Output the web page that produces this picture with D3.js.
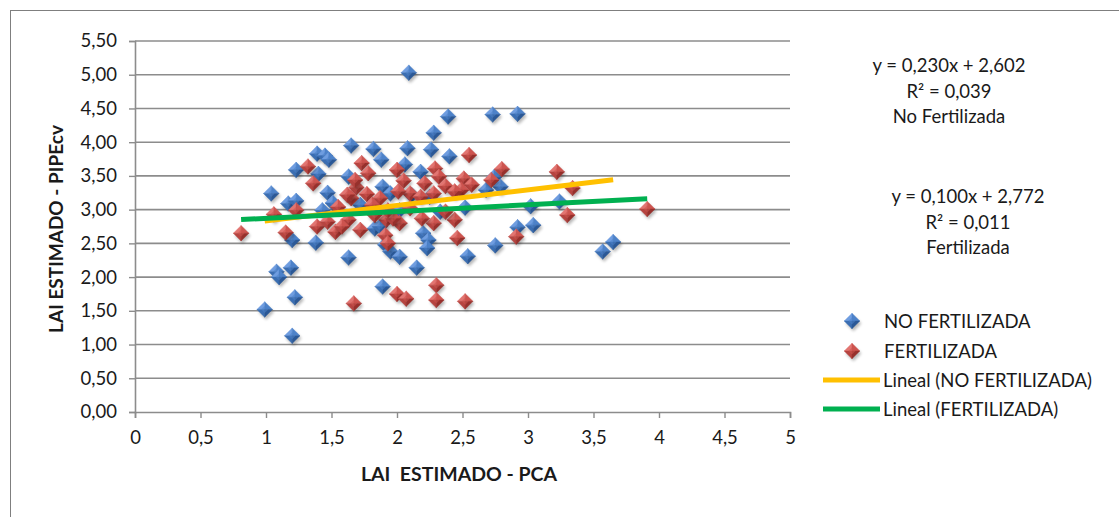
<!DOCTYPE html>
<html>
<head>
<meta charset="utf-8">
<script src="https://cdn.jsdelivr.net/npm/d3@7/dist/d3.min.js"></script>
<style>
  html, body { margin: 0; padding: 0; background: #fff; }
  svg { display: block; font-family: Lato, "Open Sans", sans-serif; }
</style>
</head>
<body>
<svg id="chart" width="1119" height="517"></svg>
<script>
// LAI estimated by PCA (x) vs. LAI estimated by PIPEcv (y)
const noFertX = [2.09,2.39,2.73,2.92,2.28,1.65,1.82,2.08,2.26,2.40,1.39,1.45,1.48,1.88,2.06,1.23,1.40,1.63,2.18,1.89,1.95,2.11,2.25,1.04,1.47,1.17,1.23,1.51,1.43,2.74,2.79,2.68,3.02,3.24,2.92,3.04,2.75,2.54,3.65,3.57,1.83,1.87,2.20,2.24,2.23,1.91,1.95,2.02,1.63,2.15,1.89,1.20,1.38,1.08,1.10,1.19,1.22,0.99,1.20,2.33,2.52,2.02,1.72];
const noFertY = [5.03,4.38,4.41,4.42,4.14,3.95,3.90,3.91,3.89,3.79,3.83,3.80,3.74,3.74,3.67,3.59,3.53,3.49,3.56,3.34,3.24,3.22,3.19,3.24,3.25,3.09,3.13,3.10,2.99,3.48,3.34,3.29,3.05,3.12,2.74,2.77,2.47,2.31,2.52,2.38,2.72,2.75,2.65,2.55,2.43,2.48,2.38,2.30,2.29,2.14,1.86,2.55,2.51,2.08,2.00,2.14,1.70,1.52,1.13,2.97,3.03,2.99,3.07];

const fertX = [1.32,1.73,1.78,2.00,1.36,1.69,1.77,2.05,2.10,1.06,1.23,0.81,1.15,2.55,2.80,3.22,2.29,2.32,2.51,2.57,2.72,2.21,2.37,2.28,2.49,3.34,3.30,3.91,2.44,2.28,2.19,2.02,1.92,2.91,2.46,1.91,1.93,2.00,2.07,2.30,2.30,2.52,1.67,1.68,1.65,1.87,2.01,2.18,1.63,1.72,1.97,2.44,2.37,1.39,1.47,1.53,1.58,1.55,1.62,1.81,1.93,2.10,1.83];
const fertY = [3.64,3.69,3.54,3.59,3.39,3.33,3.23,3.43,3.24,2.93,2.99,2.65,2.66,3.81,3.60,3.56,3.61,3.49,3.46,3.37,3.44,3.39,3.35,3.24,3.29,3.32,2.92,3.01,2.85,2.80,2.87,2.80,2.85,2.60,2.58,2.62,2.50,1.75,1.68,1.88,1.66,1.64,1.61,3.44,3.17,3.17,3.27,3.19,2.85,2.70,2.87,3.27,2.97,2.75,2.82,2.67,2.75,3.04,3.22,3.07,2.99,3.02,2.92];

// Linear trendlines: [slope, intercept, R²]
const noFertTrend = [0.230, 2.602, 0.039];
const fertTrend = [0.100, 2.772, 0.011];

const xTicks = [0, 0.5, 1, 1.5, 2, 2.5, 3, 3.5, 4, 4.5, 5];
const yTicks = [0, 0.5, 1, 1.5, 2, 2.5, 3, 3.5, 4, 4.5, 5, 5.5];

const seriesNames = ["NO FERTILIZADA", "FERTILIZADA"];
const trendNames = ["Lineal (NO FERTILIZADA)", "Lineal (FERTILIZADA)"];
const eqLabels = [["y = 0,230x + 2,602", "R² = 0,039", "No Fertilizada"],
                  ["y = 0,100x + 2,772", "R² = 0,011", "Fertilizada"]];

const comma = f => s => f(s).replace(".", ",");

const svg = d3.select("#chart");
const x = d3.scaleLinear().domain([0, 5]).range([135, 790]);
const y = d3.scaleLinear().domain([0, 5.5]).range([412, 41]);

const gridColor = "#8c8c8c";
const fontColor = "#1a1a1a";
const fs = "18.5px";

// Outer chart border
svg.append("rect").attr("x", 10.5).attr("y", 10.5).attr("width", 1130).attr("height", 530)
  .attr("fill", "none").attr("stroke", "#7f7f7f").attr("stroke-width", 1);

// Horizontal gridlines
svg.append("g").selectAll("line").data(yTicks.filter(d => d > 0)).join("line")
  .attr("x1", x(0)).attr("x2", x(5))
  .attr("y1", d => y(d)).attr("y2", d => y(d))
  .attr("stroke", gridColor).attr("stroke-width", 1.6);

// Axes
const yAxis = svg.append("g").attr("transform", `translate(${x(0)},0)`)
  .call(d3.axisLeft(y).tickValues(yTicks).tickFormat(comma(d3.format(".2f"))).tickSize(6).tickPadding(12));
const xAxis = svg.append("g").attr("transform", `translate(0,${y(0)})`)
  .call(d3.axisBottom(x).tickValues(xTicks).tickFormat(comma(d3.format("~g"))).tickSize(6).tickPadding(13));
[yAxis, xAxis].forEach(a => {
  a.select(".domain").attr("stroke", gridColor).attr("stroke-width", 1.6);
  a.selectAll(".tick line").attr("stroke", gridColor).attr("stroke-width", 1.4);
  a.selectAll(".tick text").attr("fill", fontColor).style("font-size", fs).style("font-family", "Lato");
});

// Axis titles
svg.append("text").attr("x", 459).attr("y", 481).attr("text-anchor", "middle")
  .attr("fill", fontColor).style("font-size", "19.5px").style("font-weight", "bold")
  .style("white-space", "pre").text("LAI  ESTIMADO - PCA");
svg.append("text").attr("transform", "translate(63,229) rotate(-90)").attr("text-anchor", "middle")
  .attr("fill", fontColor).style("font-size", "19px").style("font-weight", "bold")
  .text("LAI ESTIMADO - PIPEcv");

// Marker shading
const defs = svg.append("defs");
defs.append("filter").attr("id", "shadow").attr("x", "-50%").attr("y", "-50%").attr("width", "200%").attr("height", "200%")
  .append("feGaussianBlur").attr("stdDeviation", 1.6);

const palettes = [
  { tl: "#6f9de0", tr: "#4d82c9", bl: "#3b6eb2", br: "#2b5896" },
  { tl: "#e27571", tr: "#cd544f", bl: "#b64440", br: "#97302c" }
];
const R = 7.8;

function diamond(g, cx, cy, pal) {
  const grp = g.append("g").attr("transform", `translate(${cx},${cy})`);
  grp.append("path").attr("d", `M0,${-R}L${R},0L0,${R}L${-R},0Z`)
    .attr("transform", "translate(1.5,2.5)").attr("fill", "#000").attr("opacity", 0.28)
    .attr("filter", "url(#shadow)");
  const faces = [
    [`M0,${-R}L0,0L${-R},0Z`, pal.tl],
    [`M0,${-R}L${R},0L0,0Z`, pal.tr],
    [`M${-R},0L0,0L0,${R}Z`, pal.bl],
    [`M0,0L${R},0L0,${R}Z`, pal.br]
  ];
  faces.forEach(([d, c]) => grp.append("path").attr("d", d).attr("fill", c).attr("stroke", c).attr("stroke-width", 0.4));
  // flat top facet
  const r2 = R * 0.45;
  grp.append("path").attr("d", `M0,${-r2}L${r2},0L0,${r2}L${-r2},0Z`).attr("fill", pal.tr).attr("opacity", 0.55);
}

const pts = svg.append("g");
noFertX.forEach((v, i) => diamond(pts, x(v), y(noFertY[i]), palettes[0]));
fertX.forEach((v, i) => diamond(pts, x(v), y(fertY[i]), palettes[1]));

// Trendlines over the data range of each series
const trendColors = ["#ffc000", "#00b050"];
[[noFertTrend, noFertX], [fertTrend, fertX]].forEach(([t, xs], i) => {
  const [lo, hi] = d3.extent(xs);
  svg.append("line")
    .attr("x1", x(lo)).attr("y1", y(t[0] * lo + t[1]))
    .attr("x2", x(hi)).attr("y2", y(t[0] * hi + t[1]))
    .attr("stroke", trendColors[i]).attr("stroke-width", 5);
});

// Equation labels
const eqPos = [[949, 72], [968, 203]];
eqLabels.forEach((lines, i) => {
  lines.forEach((t, j) => {
    svg.append("text").attr("x", eqPos[i][0]).attr("y", eqPos[i][1] + j * 25.5)
      .attr("text-anchor", "middle").attr("fill", fontColor).style("font-size", fs).text(t);
  });
});

// Legend
const lg = svg.append("g");
const legendY = [321, 351, 380, 409];
seriesNames.forEach((n, i) => {
  diamond(lg, 852, legendY[i], palettes[i]);
  lg.append("text").attr("x", 884).attr("y", legendY[i] + 6.5).attr("fill", fontColor).style("font-size", fs).text(n);
});
trendNames.forEach((n, i) => {
  lg.append("line").attr("x1", 823).attr("x2", 880).attr("y1", legendY[i + 2]).attr("y2", legendY[i + 2])
    .attr("stroke", trendColors[i]).attr("stroke-width", 5);
  lg.append("text").attr("x", 883).attr("y", legendY[i + 2] + 6.5).attr("fill", fontColor).style("font-size", fs).text(n);
});
</script>
</body>
</html>
